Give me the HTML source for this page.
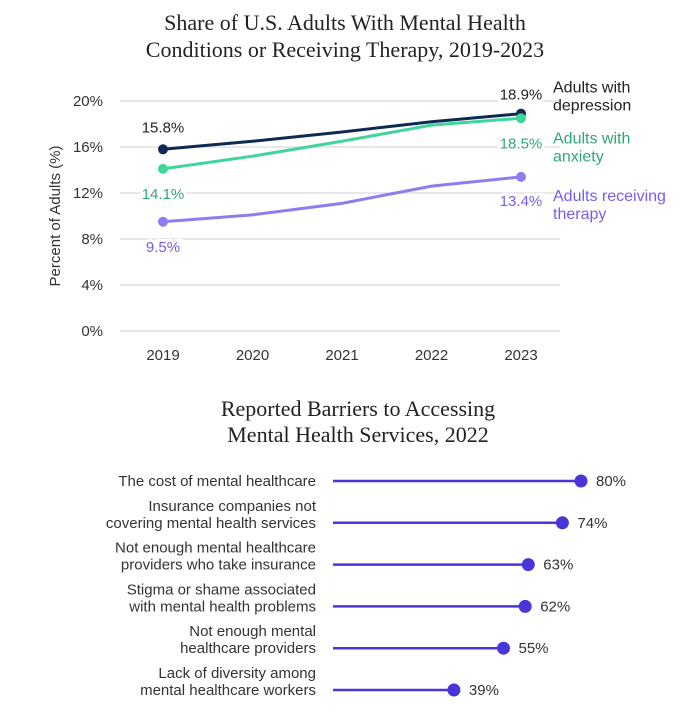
<!DOCTYPE html>
<html><head><meta charset="utf-8"><style>
body{margin:0;background:#fff;width:700px;height:717px;overflow:hidden;font-family:"Liberation Sans",sans-serif}
</style></head><body>
<svg id="c" width="700" height="717">
<text x="345" y="30" text-anchor="middle" font-family="Liberation Serif,serif" font-size="22" fill="#222">Share of U.S. Adults With Mental Health</text>
<text x="345" y="57" text-anchor="middle" font-family="Liberation Serif,serif" font-size="22" fill="#222">Conditions or Receiving Therapy, 2019-2023</text>
<text x="358" y="416" text-anchor="middle" font-family="Liberation Serif,serif" font-size="22" fill="#222">Reported Barriers to Accessing</text>
<text x="358" y="442" text-anchor="middle" font-family="Liberation Serif,serif" font-size="22" fill="#222">Mental Health Services, 2022</text>
<text transform="translate(60,216) rotate(-90)" text-anchor="middle" font-size="15" fill="#333">Percent of Adults (%)</text>
<g id="gtop"></g><g id="gbot"></g>
</svg>
<script>
const years=["2019","2020","2021","2022","2023"];
const depression=[15.8,16.5,17.3,18.2,18.9];
const anxiety=[14.1,15.2,16.5,17.9,18.5];
const therapy=[9.5,10.1,11.1,12.6,13.4];
const yTicks=[0,4,8,12,16,20];
const barriers=[["The cost of mental healthcare"],["Insurance companies not","covering mental health services"],["Not enough mental healthcare","providers who take insurance"],["Stigma or shame associated","with mental health problems"],["Not enough mental","healthcare providers"],["Lack of diversity among","mental healthcare workers"]];
const barrierValues=[80,74,63,62,55,39];
const NS="http://www.w3.org/2000/svg";
function mk(p,t,a,txt){const e=document.createElementNS(NS,t);for(const k in a)e.setAttribute(k,a[k]);if(txt!=null)e.textContent=txt;p.appendChild(e);return e;}
const gTop=document.getElementById('gtop'),gBot=document.getElementById('gbot');
const x=i=>163+i*(521-163)/(years.length-1);
const y=v=>331-v*(331-101)/20;
yTicks.forEach(t=>{
 const l=mk(gTop,'line',{x1:120,x2:560,y1:y(t),y2:y(t),stroke:'#e0e0e0','stroke-width':1.5});
 
 
 const tx=mk(gTop,'text',{x:103,y:y(t)+5,'text-anchor':'end','font-size':15,fill:'#333'},t+'%');
 
 
});
years.forEach((yr,i)=>{const t=mk(gTop,'text',{x:x(i),y:360,'text-anchor':'middle','font-size':15,fill:'#333'},yr);
 
 });
const series=[[depression,'#0d2a52','depression',-17,-14,["Adults with","depression"],-21],[anxiety,'#3ed69a','anxiety',30,30,["Adults with","anxiety"],25],[therapy,'#8e7cf0','therapy',30,29,["Adults receiving","therapy"],24]];
const lblCol={depression:'#222',anxiety:'#2fa877',therapy:'#7a5cf0'};
series.forEach(([d,c,n,o1,o2,leg,lo])=>{
 const p=mk(gTop,'polyline',{points:d.map((v,i)=>x(i)+','+y(v)).join(' '),fill:'none',stroke:c,'stroke-width':3});
 
 
 [0,d.length-1].forEach((i,k)=>{
  const ci=mk(gTop,'circle',{cx:x(i),cy:y(d[i]),r:5,fill:c});
  
  
  const tx=mk(gTop,'text',{x:x(i),y:y(d[i])+(k?o2:o1),'text-anchor':'middle','font-size':15,fill:lblCol[n],stroke:'#fff','stroke-width':6,'paint-order':'stroke'},d[i].toFixed(1)+'%');
  
  
 });
 leg.forEach((s,j)=>{const t=mk(gTop,'text',{x:553,y:y(d[4])+lo+j*18,'font-size':16,fill:lblCol[n]},s);
  
  });
});
const bx=v=>333+v*3.1;
barrierValues.forEach((v,i)=>{
 const cy=481+i*41.8;
 const l=mk(gBot,'line',{x1:333,x2:bx(v),y1:cy,y2:cy,stroke:'#4a35d8','stroke-width':2.5});
 
 
 const c=mk(gBot,'circle',{cx:bx(v),cy:cy,r:6.5,fill:'#4a35d8'});
 
 
 const t=mk(gBot,'text',{x:bx(v)+15,y:cy+5,'font-size':15,fill:'#333'},v+'%');
 
 
 const lines=barriers[i];
 lines.forEach((s,j)=>{const tt=mk(gBot,'text',{x:316,y:cy+5-(lines.length-1-j)*17,'text-anchor':'end','font-size':15,fill:'#333'},s);
  
  });
});
</script>
</body></html>
